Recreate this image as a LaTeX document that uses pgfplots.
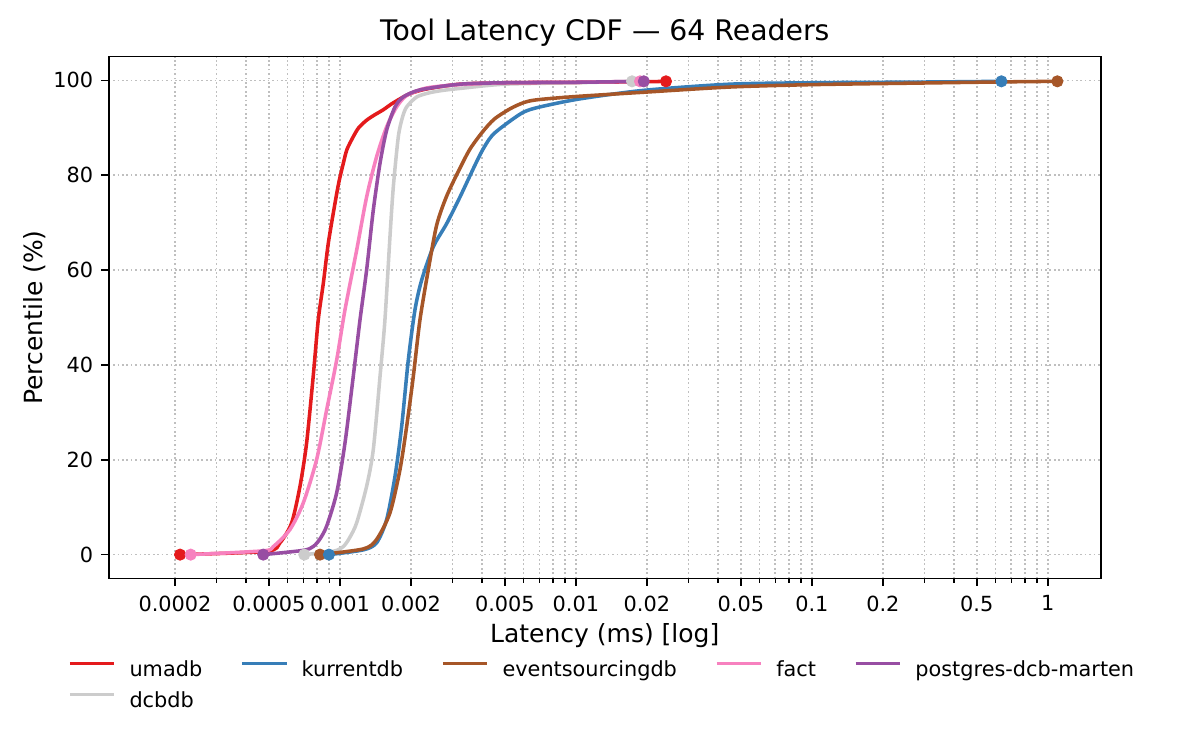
\documentclass[border=0pt]{standalone}
\usepackage{fontspec}
\setmainfont{DejaVu Sans}
\usepackage{pgfplots}
\pgfplotsset{compat=1.18}
\definecolor{cU}{HTML}{E41A1C}
\definecolor{cK}{HTML}{377EB8}
\definecolor{cE}{HTML}{A65628}
\definecolor{cF}{HTML}{F781BF}
\definecolor{cP}{HTML}{984EA3}
\definecolor{cD}{HTML}{CCCCCC}
\begin{document}
\begin{tikzpicture}
\path[use as bounding box] (-52.2bp,-82.4bp) rectangle (523.8bp,277.6bp);
\begin{axis}[
  at={(0,0)}, anchor=south west,
  scale only axis, width=476.2bp, height=250.4bp,
  xmode=log, xmin=1.047e-4, xmax=1.678, ymin=-5, ymax=105,
  xtick={0.0002,0.0005,0.001,0.002,0.005,0.01,0.02,0.05,0.1,0.2,0.5,1},
  xticklabels={0.0002,0.0005,0.001,0.002,0.005,0.01,0.02,0.05,0.1,0.2,0.5,1},
  minor xtick={0.0003,0.0004,0.0006,0.0007,0.0008,0.0009,0.003,0.004,0.006,0.007,0.008,0.009,0.03,0.04,0.06,0.07,0.08,0.09,0.3,0.4,0.6,0.7,0.8,0.9},
  ytick={0,20,40,60,80,100}, yticklabels={0,20,40,60,80,100},
  tick pos=left, tick align=outside,
  major tick length=3.5bp, minor tick length=2bp,
  major tick style={black, line width=0.8bp},
  minor tick style={black, line width=0.6bp},
  grid=both,
  major grid style={black!25, line width=0.8bp, dash pattern=on 0.8bp off 1.32bp},
  minor grid style={black!25, line width=0.8bp, dash pattern=on 0.8bp off 1.32bp},
  axis line style={line width=0.8bp, black},
  xticklabel style={font=\fontsize{10bp}{12bp}\selectfont, inner sep=0pt, anchor=north, yshift=-4.6bp},
  yticklabel style={font=\fontsize{10bp}{12bp}\selectfont, inner sep=0pt, anchor=east, xshift=-3.8bp},
  title={Tool Latency CDF — 64 Readers},
  title style={font=\fontsize{13.6bp}{16bp}\selectfont, inner sep=0pt, at={(axis description cs:0.5,1)}, anchor=base, yshift=1.7bp},
  xlabel={Latency (ms) [log]},
  xlabel style={font=\fontsize{12bp}{14bp}\selectfont, inner sep=0pt, at={(axis description cs:0.5,0)}, anchor=base, yshift=-31bp},
  ylabel={Percentile (\%)},
  ylabel style={font=\fontsize{12bp}{14bp}\selectfont, inner sep=0pt, at={(axis description cs:-0.0743,0.5)}, anchor=center},
  legend columns=5,
  legend cell align=left,
  legend style={draw=none, fill=none, inner sep=0pt, outer sep=0pt,
    at={(axis description cs:-0.041,-0.1581)}, anchor=north west,
    font=\fontsize{10bp}{12bp}\selectfont,
    nodes={inner sep=0pt, text height=7.6bp, text depth=2.4bp},
    row sep=4.9bp,
    /tikz/every odd column/.append style={column sep=6.4bp},
    /tikz/every even column/.append style={column sep=18.2bp}},
  legend image code/.code={\path (0bp,0bp); \draw[#1] (0bp,3.7bp) -- (21.4bp,3.7bp);},
  every axis plot/.append style={line join=round},
]
% lines
\addplot[cD, line width=1.7bp, smooth, tension=0.45, forget plot] coordinates {
(7.06e-4,0) (9.37e-4,0.7) (1.033e-3,1.7) (1.10e-3,3.6) (1.177e-3,6.7) (1.297e-3,14.4) (1.384e-3,22.1)
(1.478e-3,37.5) (1.551e-3,49.5) (1.629e-3,67) (1.683e-3,77.5) (1.767e-3,88.1) (1.84e-3,92.2)
(1.917e-3,94.4) (2.114e-3,96.5) (2.4e-3,97.4) (2.741e-3,97.9) (3.226e-3,98.3) (5e-3,99.2)
(0.01,99.5) (0.0173,99.8)};
\addplot[cU, line width=1.7bp, smooth, tension=0.45, forget plot] coordinates {
(2.10e-4,0) (4.89e-4,0.7) (5.57e-4,2.5) (6.24e-4,6.7) (6.77e-4,14.4) (7.22e-4,23.5)
(7.70e-4,37.5) (8.09e-4,49.5) (8.50e-4,57.2) (8.92e-4,65.6) (9.52e-4,74.0) (9.9e-4,78.6)
(1.033e-3,82.5) (1.07e-3,85.4) (1.138e-3,88.1) (1.2e-3,90.0) (1.297e-3,91.6) (1.40e-3,92.7) (1.526e-3,93.8) (1.65e-3,95.0) (1.796e-3,96.1)
(1.981e-3,97.2) (2.331e-3,98.2) (3.226e-3,99.2) (5e-3,99.5) (0.01,99.6)
(0.0190,99.7) (0.02409,99.8)};
\addplot[cK, line width=1.7bp, smooth, tension=0.45, forget plot] coordinates {
(8.98e-4,0) (1.256e-3,1.0) (1.430e-3,2.5) (1.577e-3,7.4) (1.711e-3,16.5) (1.826e-3,27)
(1.948e-3,41) (2.079e-3,51.6) (2.220e-3,57.9) (2.486e-3,64.9) (2.833e-3,69.8)
(3.226e-3,75.4) (3.922e-3,84.3) (4.4e-3,88.3) (5.09e-3,90.9) (6e-3,93.3) (7.04e-3,94.4)
(0.0104,96.1) (0.0194,97.9) (0.0450,99.2) (0.1,99.5) (0.3,99.65) (0.636,99.8)};
\addplot[cE, line width=1.7bp, smooth, tension=0.45, forget plot] coordinates {
(8.23e-4,0) (1.256e-3,1.2) (1.430e-3,3.2) (1.629e-3,8.8) (1.796e-3,17.9) (1.917e-3,27)
(2.045e-3,37.5) (2.183e-3,49.5) (2.367e-3,60) (2.570e-3,69.5) (2.833e-3,75.6)
(3.226e-3,81.5) (3.556e-3,85.5) (4.0e-3,89) (4.5e-3,91.8) (5.256e-3,94.0) (6.0e-3,95.3)
(6.82e-3,95.9) (0.01,96.6) (0.0194,97.5) (0.0450,98.6) (0.1,99.1) (0.3,99.45)
(0.7,99.7) (1.098,99.8)};
\addplot[cF, line width=1.7bp, smooth, tension=0.45, forget plot] coordinates {
(2.33e-4,0) (4.73e-4,0.8) (5.22e-4,1.7) (6.14e-4,5.3) (6.99e-4,10.9) (7.96e-4,20)
(8.78e-4,30.5) (9.68e-4,41) (1.050e-3,51.6) (1.177e-3,64.2) (1.297e-3,75.4)
(1.430e-3,83.9) (1.577e-3,90.2) (1.739e-3,94.4) (1.917e-3,96.8) (2.331e-3,98.4)
(3.2e-3,99.1) (5e-3,99.5) (0.01,99.6) (0.0187,99.8)};
\addplot[cP, line width=1.7bp, smooth, tension=0.45, forget plot] coordinates {
(4.73e-4,0) (6.99e-4,0.9) (7.70e-4,1.7) (8.2e-4,3.2) (8.78e-4,6) (9.68e-4,13) (1.050e-3,23.5)
(1.138e-3,37.5) (1.216e-3,49.5) (1.297e-3,60) (1.384e-3,72.6) (1.478e-3,82.5)
(1.577e-3,89.5) (1.711e-3,94.4) (1.855e-3,96.5) (2.183e-3,98.0) (3.226e-3,99.2)
(5e-3,99.5) (0.01,99.6) (0.0194,99.8)};
% end markers
\addplot[cD, only marks, mark=*, mark size=2.7bp, forget plot] coordinates {(7.06e-4,0) (0.0173,99.8)};
\addplot[cU, only marks, mark=*, mark size=2.7bp, forget plot] coordinates {(2.10e-4,0) (0.02409,99.8)};
\addplot[cE, only marks, mark=*, mark size=2.7bp, forget plot] coordinates {(8.23e-4,0) (1.098,99.8)};
\addplot[cK, only marks, mark=*, mark size=2.7bp, forget plot] coordinates {(8.98e-4,0) (0.636,99.8)};
\addplot[cF, only marks, mark=*, mark size=2.7bp, forget plot] coordinates {(2.33e-4,0) (0.0187,99.8)};
\addplot[cP, only marks, mark=*, mark size=2.7bp, forget plot] coordinates {(4.73e-4,0) (0.0194,99.8)};
% legend
\addlegendimage{cU, line width=1.7bp}\addlegendentry{umadb}
\addlegendimage{cK, line width=1.7bp}\addlegendentry{kurrentdb}
\addlegendimage{cE, line width=1.7bp}\addlegendentry{eventsourcingdb}
\addlegendimage{cF, line width=1.7bp}\addlegendentry{fact}
\addlegendimage{cP, line width=1.7bp}\addlegendentry{postgres-dcb-marten}
\addlegendimage{cD, line width=1.7bp}\addlegendentry{dcbdb}
\end{axis}
\end{tikzpicture}
\end{document}
